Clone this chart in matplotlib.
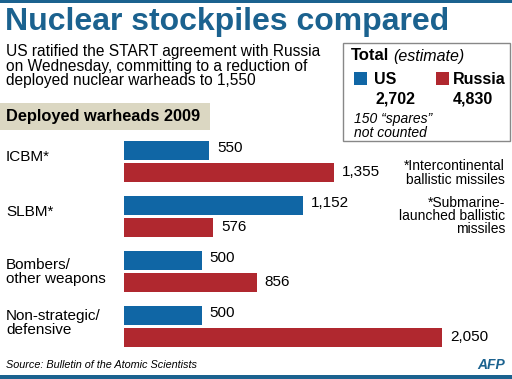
import matplotlib.pyplot as plt
from matplotlib.patches import Rectangle

# data
categories = ['ICBM*', 'SLBM*', 'Bombers/\nother weapons', 'Non-strategic/\ndefensive']
us_vals = [550, 1152, 500, 500]
russia_vals = [1355, 576, 856, 2050]
us_labels = ['550', '1,152', '500', '500']
russia_labels = ['1,355', '576', '856', '2,050']
total_us = '2,702'
total_russia = '4,830'

BLUE = '#1066a5'
RED = '#b0282f'
TITLE_BLUE = '#1b628f'
BEIGE = '#dbd7c2'

plt.rcParams['font.family'] = ['Liberation Sans', 'DejaVu Sans']

W, H = 512, 379
fig = plt.figure(figsize=(W / 100, H / 100), dpi=100)

# background axes in pixel coordinates for the text
bg = fig.add_axes([0, 0, 1, 1])
bg.set_xlim(0, W)
bg.set_ylim(H, 0)
bg.axis('off')

bg.add_patch(Rectangle((0, 0), W, 3, color=TITLE_BLUE, lw=0))
bg.add_patch(Rectangle((0, 375), W, 4, color=TITLE_BLUE, lw=0))

bg.text(5, 22, 'Nuclear stockpiles compared', fontsize=23, fontweight='bold',
        color=TITLE_BLUE, va='center', ha='left')
bg.text(6, 66, 'US ratified the START agreement with Russia\n'
        'on Wednesday, committing to a reduction of\n'
        'deployed nuclear warheads to 1,550',
        fontsize=11.2, va='center', ha='left', linespacing=0.92)

# totals box
bg.add_patch(Rectangle((343, 43), 167, 98, fill=False, ec='#888888', lw=1))
bg.text(351, 56, 'Total', fontsize=12, fontweight='bold', va='center')
bg.text(393, 56, '(estimate)', fontsize=11.5, style='italic', va='center')
bg.add_patch(Rectangle((354, 72), 13, 13, color=BLUE, lw=0))
bg.add_patch(Rectangle((436, 72), 13, 13, color=RED, lw=0))
bg.text(374, 80, 'US', fontsize=11.5, fontweight='bold', va='center')
bg.text(453, 80, 'Russia', fontsize=11.5, fontweight='bold', va='center')
bg.text(375, 99, total_us, fontsize=11.5, fontweight='bold', va='center')
bg.text(453, 99, total_russia, fontsize=11.5, fontweight='bold', va='center')
bg.text(354, 126, '150 \u201cspares\u201d\nnot counted', fontsize=10,
        style='italic', va='center', linespacing=0.95)

# section header
bg.add_patch(Rectangle((0, 103), 210, 27, color=BEIGE, lw=0))
bg.text(6, 116.5, 'Deployed warheads 2009', fontsize=11.8, fontweight='bold',
        va='center')

# footnotes
bg.text(505, 173, '*Intercontinental\nballistic missiles', fontsize=10,
        ha='right', va='center', linespacing=0.95)
bg.text(505, 216, '*Submarine-\nlaunched ballistic\nmissiles', fontsize=10,
        ha='right', va='center', linespacing=0.92, multialignment='right')

bg.text(6, 365, 'Source: Bulletin of the Atomic Scientists', fontsize=7.8,
        style='italic', va='center')
bg.text(505, 365, 'AFP', fontsize=10, fontweight='bold', style='italic',
        color=TITLE_BLUE, ha='right', va='center')

# bar axes: same pixel rows, x in warhead units
x0 = 124
px_per_unit = 0.155
ax = fig.add_axes([x0 / W, 0, (W - x0) / W, 1])
ax.set_xlim(0, (W - x0) / px_per_unit)
ax.set_ylim(H, 0)
ax.axis('off')

first_center = 150
group_step = 55
pair_gap = 22
bar_h = 19
us_y = [first_center + i * group_step for i in range(len(categories))]
ru_y = [y + pair_gap for y in us_y]

ax.barh(us_y, us_vals, height=bar_h, color=BLUE)
ax.barh(ru_y, russia_vals, height=bar_h, color=RED)

pad = 8 / px_per_unit
for y, v, s in zip(us_y, us_vals, us_labels):
    ax.text(v + pad, y - 2, s, fontsize=11, va='center')
for y, v, s in zip(ru_y, russia_vals, russia_labels):
    ax.text(v + pad, y, s, fontsize=11, va='center')

label_offsets = [7, 7, 12, 8]
for y, c, off in zip(us_y, categories, label_offsets):
    bg.text(6, y + off, c, fontsize=11, va='center', linespacing=1.0)

fig.savefig('out.png', dpi=100)
